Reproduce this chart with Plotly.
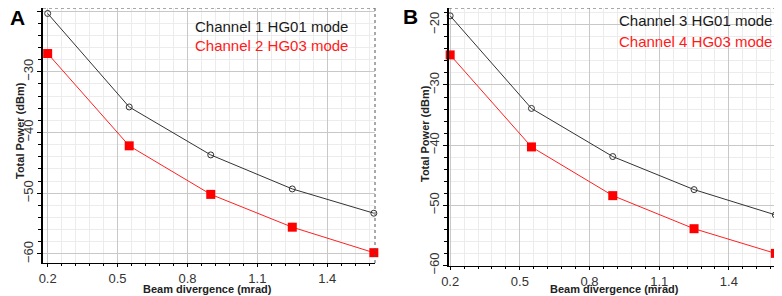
import plotly.graph_objects as go

divergence = [0.2, 0.55, 0.9, 1.25, 1.6]
ch1_hg01 = [-20.4, -35.8, -43.7, -49.3, -53.3]
ch2_hg03 = [-27.0, -42.2, -50.2, -55.6, -59.8]
ch3_hg01 = [-18.5, -33.9, -41.9, -47.4, -51.6]
ch4_hg03 = [-25.0, -40.3, -48.4, -53.9, -58.0]

# the page places the figure at (8, 8) in the window
OX, OY = 8, 8
W, H = 782 - OX, 296 - OY
FONT = "Liberation Sans, Arial, sans-serif"


def px(x):
    return max(0.0, (x - OX) / W)


def py(y):
    return min(1.0, 1 - (y - OY) / H)


fig = go.Figure()


def add_pair(xa, ya, black, red):
    fig.add_trace(go.Scatter(x=divergence, y=black, mode="lines+markers", xaxis=xa, yaxis=ya,
                             line=dict(color="#333333", width=1),
                             marker=dict(symbol="circle-open", size=6, color="#333333", line=dict(width=1)),
                             showlegend=False, cliponaxis=False))
    fig.add_trace(go.Scatter(x=divergence, y=red, mode="lines+markers", xaxis=xa, yaxis=ya,
                             line=dict(color="#ff2020", width=1),
                             marker=dict(symbol="square", size=9, color="#ff0000"),
                             showlegend=False, cliponaxis=False))


add_pair("x", "y", ch1_hg01, ch2_hg03)
add_pair("x2", "y2", ch3_hg01, ch4_hg03)


def xax(domain, rng, anchor):
    return dict(domain=domain, range=rng, anchor=anchor, tick0=0.2, dtick=0.3, automargin=False,
                tickformat=".1f", showgrid=True, gridcolor="#c8c8c8", gridwidth=1,
                zeroline=False, showline=True, linecolor="black", linewidth=1,
                ticks="outside", ticklen=3, tickcolor="black",
                tickfont=dict(family=FONT, size=13, color="#333333"),
                minor=dict(dtick=0.06, tick0=0.2, showgrid=True, gridcolor="#ececec",
                           ticks="outside", ticklen=2, tickcolor="black"))


def yax(domain, rng, anchor):
    return dict(domain=domain, range=rng, anchor=anchor, tick0=-60, dtick=10, automargin=False,
                showgrid=True, gridcolor="#c8c8c8", gridwidth=1,
                zeroline=False, showline=True, linecolor="black", linewidth=1.5,
                ticks="outside", ticklen=4, tickcolor="black", tickangle=-90, ticklabelstandoff=-1,
                tickfont=dict(family=FONT, size=13, color="#333333"),
                minor=dict(dtick=2, tick0=-60, showgrid=True, gridcolor="#ececec",
                           ticks="outside", ticklen=3, tickcolor="black"))


fig.update_layout(
    width=W, height=H,
    margin=dict(l=0, r=0, t=0, b=0),
    paper_bgcolor="white", plot_bgcolor="white",
    xaxis=xax([px(43), px(375)], [0.18, 1.605], "y"),
    yaxis=yax([py(263), 1.0], [-61.5, -19.5], "x"),
    xaxis2=xax([px(449), px(780)], [0.195, 1.62], "y2"),
    yaxis2=yax([py(266), 1.0], [-60.1, -17.2], "x2"),
    font=dict(family=FONT),
)

# dotted top/right borders
for xr, yr in (("x domain", "y domain"), ("x2 domain", "y2 domain")):
    fig.add_shape(type="line", xref=xr, yref=yr, x0=0, x1=1, y0=1, y1=1,
                  line=dict(color="#555555", width=1, dash="dot"))
    fig.add_shape(type="line", xref=xr, yref=yr, x0=1, x1=1, y0=0, y1=1,
                  line=dict(color="#555555", width=1, dash="dot"))


def text(x, y, s, size, color, xanchor="center", angle=0):
    fig.add_annotation(x=px(x), y=py(y), xref="paper", yref="paper", xanchor=xanchor, yanchor="middle",
                       text=s, showarrow=False, textangle=angle,
                       font=dict(family=FONT, size=size, color=color))


# legends
text(193, 27, "Channel 1 HG01 mode", 15, "#1a1a1a", "left")
text(193, 45, "Channel 2 HG03 mode", 15, "#ff1a1a", "left")
text(617, 21, "Channel 3 HG01 mode", 15, "#1a1a1a", "left")
text(617, 41, "Channel 4 HG03 mode", 15, "#ff1a1a", "left")

# axis titles
text(208, 289, "<b>Beam divergence (mrad)</b>", 11, "#222222")
text(614, 289, "<b>Beam divergence (mrad)</b>", 11, "#222222")
text(20, 131, "<b>Total Power (dBm)</b>", 11, "#222222", angle=-90)
text(425, 133, "<b>Total Power (dBm)</b>", 11, "#222222", angle=-90)

# panel letters
text(4, 17, "<b>A</b>", 21, "black", "left")
text(410, 16, "<b>B</b>", 21, "black")

fig.write_html("out.html")
